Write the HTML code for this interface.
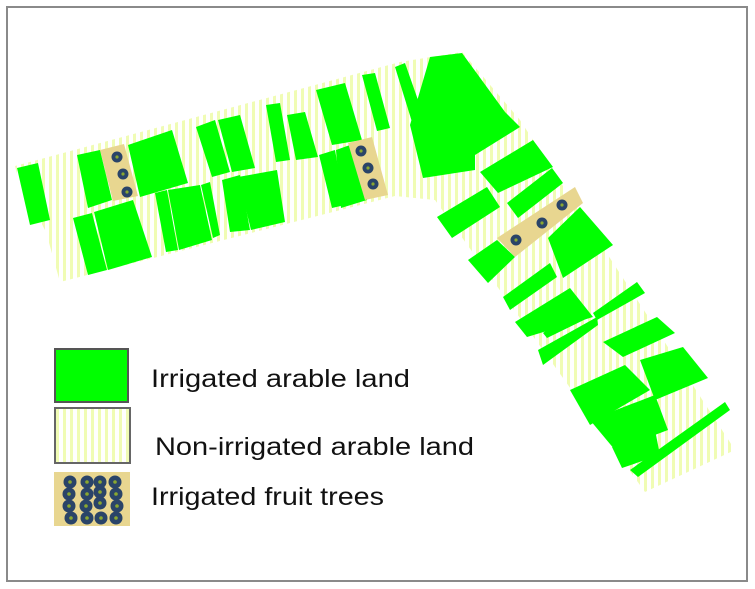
<!DOCTYPE html>
<html><head><meta charset="utf-8"><style>
html,body{margin:0;padding:0;background:#fff;}
svg{display:block;}
text{font-family:"Liberation Sans",sans-serif;fill:#111;}
</style></head><body>
<svg width="755" height="589" viewBox="0 0 755 589" xmlns="http://www.w3.org/2000/svg">
<defs>
<pattern id="h" patternUnits="userSpaceOnUse" width="7" height="10">
<rect width="7" height="10" fill="#fff"/><rect x="0" width="3" height="10" fill="#f0fcb4"/>
</pattern>
<g id="dot"><circle r="5.5" fill="#2a4468"/><circle r="1.6" fill="#8aa830"/></g>
<g id="ldot"><circle r="6.5" fill="#2a4468"/><circle r="1.8" fill="#8aa830"/></g>
</defs>
<rect x="0" y="0" width="755" height="589" fill="#fff"/>
<rect x="7" y="7" width="740" height="574" fill="#fff" stroke="#8a8a8a" stroke-width="2"/>

<polygon fill="url(#h)" points="15,166 400,62 462,52 520,120 735,450 645,492 435,200 395,196 60,282 46,232 18,178"/>

<g fill="#00ff00">
<polygon points="17,168 38,163 50,220 30,225"/>
<polygon points="77,155 100,150 112,200 88,208"/>
<polygon points="128,145 172,130 188,183 140,197"/>
<polygon points="196,127 215,120 230,172 212,177"/>
<polygon points="218,120 240,115 255,168 232,172"/>
<polygon points="266,105 280,103 290,160 276,162"/>
<polygon points="287,115 305,112 318,157 296,160"/>
<polygon points="316,90 345,83 362,140 332,145"/>
<polygon points="362,75 375,73 390,128 377,131"/>
<polygon points="73,218 92,213 107,270 88,275"/>
<polygon points="94,212 133,200 152,257 108,270"/>
<polygon points="155,193 167,190 178,250 166,252"/>
<polygon points="168,190 200,185 212,240 179,250"/>
<polygon points="201,185 210,182 220,235 213,238"/>
<polygon points="222,180 240,175 250,230 230,232"/>
<polygon points="238,177 277,170 285,222 251,230"/>
<polygon points="319,155 335,150 345,205 332,208"/>
<polygon points="336,150 350,145 367,200 341,208"/>
<polygon points="395,67 405,63 425,120 412,122"/>
<polygon points="430,57 462,53 505,112 520,127 475,155 475,170 423,178 410,125"/>
<polygon points="480,172 533,140 553,167 498,193"/>
<polygon points="437,217 487,187 500,207 452,238"/>
<polygon points="507,203 552,168 563,183 518,218"/>
<polygon points="548,238 580,207 613,245 563,278"/>
<polygon points="468,260 497,240 515,257 488,283"/>
<polygon points="503,297 550,263 557,277 510,310"/>
<polygon points="515,322 570,288 593,317 527,337"/>
<polygon points="593,313 637,282 645,293 597,320"/>
<polygon points="538,350 597,317 598,325 543,365"/>
<polygon points="543,333 577,307 590,317 547,338"/>
<polygon points="603,342 657,317 675,333 623,357"/>
<polygon points="570,390 625,365 650,390 590,425"/>
<polygon points="640,360 683,347 708,378 655,400"/>
<polygon points="590,420 655,395 668,430 615,450"/>
<polygon points="612,447 655,430 660,455 622,468"/>
<polygon points="630,470 725,402 730,410 638,477"/>
</g>

<polygon fill="#e8d690" points="100,150 124,144 138,196 113,201"/>
<use href="#dot" x="117" y="157"/><use href="#dot" x="123" y="174"/><use href="#dot" x="127" y="192"/>
<polygon fill="#e8d690" points="348,143 372,137 388,195 365,200"/>
<use href="#dot" x="361" y="151"/><use href="#dot" x="368" y="168"/><use href="#dot" x="373" y="184"/>
<polygon fill="#e8d690" points="497,238 575,187 583,203 515,257"/>
<use href="#dot" x="516" y="240"/><use href="#dot" x="542" y="223"/><use href="#dot" x="562" y="205"/>

<rect x="55" y="349" width="73" height="53" fill="#00ff00" stroke="#555" stroke-width="2"/>
<rect x="55" y="408" width="75" height="55" fill="url(#h)" stroke="#666" stroke-width="2"/>
<rect x="54" y="472" width="76" height="54" fill="#e8d690"/>
<g>
<use href="#ldot" x="70" y="482"/><use href="#ldot" x="87" y="482"/><use href="#ldot" x="100" y="482"/><use href="#ldot" x="115" y="482"/>
<use href="#ldot" x="69" y="494"/><use href="#ldot" x="87" y="494"/><use href="#ldot" x="100" y="492"/><use href="#ldot" x="116" y="494"/>
<use href="#ldot" x="69" y="506"/><use href="#ldot" x="86" y="506"/><use href="#ldot" x="100" y="503"/><use href="#ldot" x="117" y="506"/>
<use href="#ldot" x="71" y="518"/><use href="#ldot" x="87" y="518"/><use href="#ldot" x="101" y="518"/><use href="#ldot" x="116" y="518"/>
</g>
<text x="151" y="387" font-size="25" textLength="259" lengthAdjust="spacingAndGlyphs">Irrigated arable land</text>
<text x="155" y="455" font-size="25" textLength="319" lengthAdjust="spacingAndGlyphs">Non-irrigated arable land</text>
<text x="151" y="505" font-size="25" textLength="233" lengthAdjust="spacingAndGlyphs">Irrigated fruit trees</text>
</svg>
</body></html>
